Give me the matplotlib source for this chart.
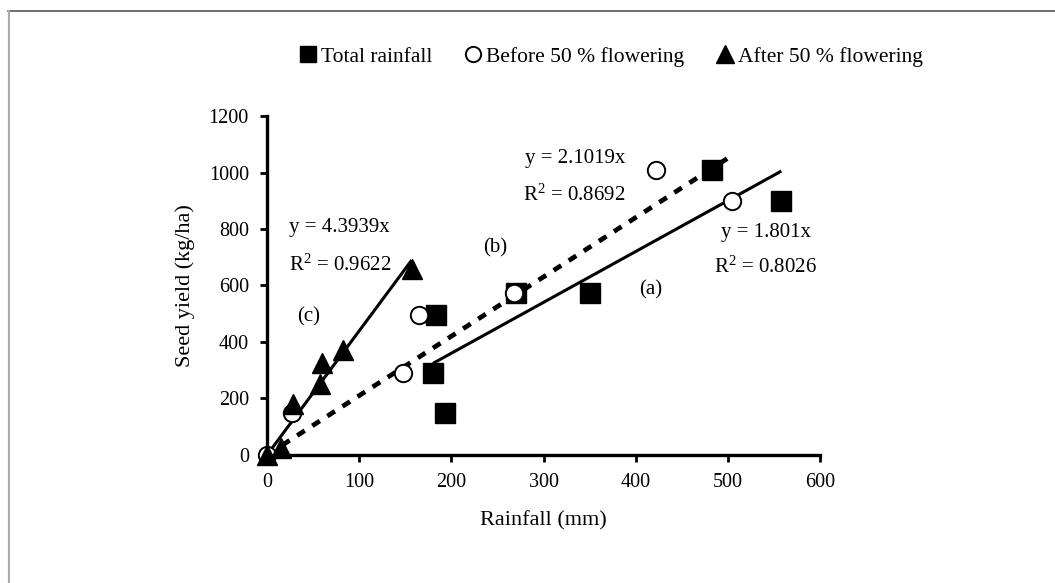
import matplotlib
matplotlib.use("Agg")
import matplotlib.pyplot as plt
from matplotlib.lines import Line2D
import numpy as np

plt.rcParams['font.family'] = ['Liberation Serif', 'DejaVu Serif']
plt.rcParams['mathtext.fontset'] = 'custom'
plt.rcParams['mathtext.rm'] = 'Liberation Serif'
plt.rcParams['mathtext.it'] = 'Liberation Serif:italic'

# Data
total_x = [483, 558, 350, 270, 183, 180, 193]
total_y = [1010, 900, 575, 575, 495, 290, 150]
before_x = [422, 505, 268, 165, 148, 27, 0]
before_y = [1010, 900, 575, 495, 290, 150, 0]
after_x = [157, 82, 60, 57, 28, 15, 0]
after_y = [660, 370, 325, 250, 180, 25, 0]

slope_a, r2_a = 1.801, 0.8026
slope_b, r2_b = 2.1019, 0.8692
slope_c, r2_c = 4.3939, 0.9622

fig = plt.figure(figsize=(10.55, 5.83), dpi=100)
ax = fig.add_axes([0.2531, 0.2196, 0.7773 - 0.2531, 0.801 - 0.2196])

# Trend lines
xa = np.array([min(total_x), max(total_x)])
ax.plot(xa, slope_a * xa, color='black', lw=2.2, solid_capstyle='butt', zorder=2)
xb = np.array([0, max(before_x)])
ax.plot(xb, slope_b * xb, color='black', lw=3.4, linestyle=(0, (1.9, 1.9)),
        dash_capstyle='butt', zorder=2)
xc = np.array([0, max(after_x)])
ax.plot(xc, slope_c * xc, color='black', lw=2.2, solid_capstyle='butt', zorder=2)

ax.plot(total_x, total_y, 's', ms=14.5, color='black', ls='none', clip_on=False, zorder=3)
ax.plot(before_x, before_y, 'o', ms=12.5, mfc='white', mec='black', mew=1.4,
        ls='none', clip_on=False, zorder=4)
ax.plot(after_x, after_y, '^', ms=15, color='black', ls='none', clip_on=False, zorder=5)

ax.set_xlim(0, 600)
ax.set_ylim(0, 1200)
ax.set_xticks(range(0, 601, 100))
ax.set_yticks(range(0, 1201, 200))
for s in ['top', 'right']:
    ax.spines[s].set_visible(False)
for s in ['left', 'bottom']:
    ax.spines[s].set_linewidth(2.4)
ax.tick_params(direction='out', length=5, width=2, labelsize=14.5, pad=8)

ax.set_xlabel('Rainfall (mm)', fontsize=16, labelpad=14)
ax.set_ylabel('Seed yield (kg/ha)', fontsize=16, labelpad=10)

fs = 15
ax.text(24, 804, f'y = {slope_c}x', fontsize=fs, va='center')
ax.text(24, 673, f'R$^2$ = {r2_c}', fontsize=fs, va='center')
ax.text(33, 489, '(c)', fontsize=fs, va='center')
ax.text(235, 733, '(b)', fontsize=fs, va='center')
ax.text(404, 584, '(a)', fontsize=fs, va='center')
ax.text(280, 1051, f'y = {slope_b}x', fontsize=fs, va='center')
ax.text(278, 920, f'R$^2$ = {r2_b}', fontsize=fs, va='center')
ax.text(492, 789, f'y = {slope_a}x', fontsize=fs, va='center')
ax.text(485, 666, f'R$^2$ = {r2_a}', fontsize=fs, va='center')

handles = [
    Line2D([], [], marker='s', ms=12, color='black', ls='none'),
    Line2D([], [], marker='o', ms=11, mfc='white', mec='black', mew=1.4, ls='none'),
    Line2D([], [], marker='^', ms=13, color='black', ls='none'),
]
labels = ['Total rainfall', 'Before 50 % flowering', 'After 50 % flowering']
fig.legend(handles, labels, loc='center', bbox_to_anchor=(0.577, 1 - 57 / 583),
           ncol=3, frameon=False, fontsize=15.5, handletextpad=0.0,
           columnspacing=1.3, handlelength=1.2)

# Figure frame lines (top and left)
fig.add_artist(Line2D([8 / 1055, 1], [1 - 11 / 583, 1 - 11 / 583],
                      transform=fig.transFigure, color='#555555', lw=1.2))
fig.add_artist(Line2D([8.5 / 1055, 8.5 / 1055], [0, 1 - 11 / 583],
                      transform=fig.transFigure, color='#aaaaaa', lw=1.5))

fig.savefig('out.png', dpi=100)
